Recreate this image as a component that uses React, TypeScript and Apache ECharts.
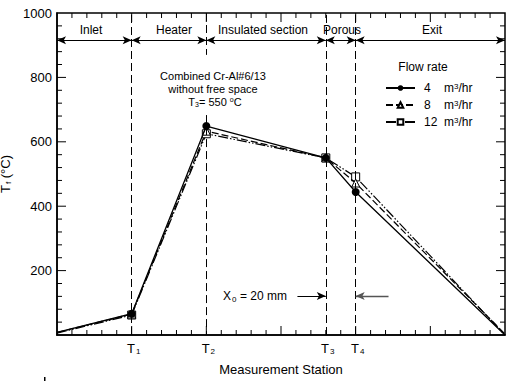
import React, { useEffect, useRef } from "react";
import * as echarts from "echarts";

// Measurement stations (mm along the rig) and fluid temperature (°C)
const stations = [0, 50, 100, 180, 200, 300];
const flow4 = [8, 66, 649, 550, 444, 0];
const flow8 = [8, 65, 633, 550, 472, 3];
const flow12 = [6, 62, 625, 550, 491, 0];
const seriesNames = ["4", "8", "12"];
const stationTicks = [50, 100, 180, 200];
const stationLabels = ["1", "2", "3", "4"];
const sectionEdges = [0, 50, 100, 180, 200, 300];
const sectionNames = ["Inlet", "Heater", "Insulated section", "Porous", "Exit"];
const sectionLabelX = [91, 174, 263, 342, 432];
const headerLevel = 915;
const x0Level = 121;
const X_MIN = 0, X_MAX = 300, X_MAJOR = 50, X_MINOR = 10;
const Y_MIN = 0, Y_MAX = 1000, Y_MAJOR = 200, Y_MINOR = 40;

const FONT = "'Liberation Sans', Arial, sans-serif";

export default function App() {
  const ref = useRef<HTMLDivElement>(null);
  useEffect(() => {
    if (!ref.current) return;
    document.body.style.margin = "0";
    const chart = echarts.init(ref.current, null, { renderer: "svg" });
    const pts = (ys: number[]) =>
      stations.map((x, i) => {
        const edge = i === 0 || i === stations.length - 1;
        return edge ? { value: [x, ys[i]], symbol: "none" } : { value: [x, ys[i]] };
      });

    const solidLS = () => ({ type: "solid", width: 1, color: "#000" });
    const greyLS = () => ({ type: "solid", width: 1.3, color: "#555" });
    const arrowPt = (c: number[], sym: string, ls: any) => ({ coord: c, symbol: sym, symbolSize: [6, 9], lineStyle: ls });

    const headerArrows = sectionNames.map((_, i) => [
      arrowPt([sectionEdges[i], headerLevel], "arrow", solidLS()),
      arrowPt([sectionEdges[i + 1], headerLevel], "arrow", solidLS()),
    ]);

    const markLine = {
      silent: true,
      symbol: "none",
      label: { show: false },
      lineStyle: { color: "#000", type: [8, 4], width: 1 },
      emphasis: { disabled: true },
      data: [
        { xAxis: 50 },
        { xAxis: 180 },
        { xAxis: 200 },
        [{ coord: [100, 1000] }, { coord: [100, 870] }],
        [{ coord: [100, 683] }, { coord: [100, 0] }],
        ...headerArrows,
        [arrowPt([161, x0Level], "none", solidLS()), arrowPt([180, x0Level], "arrow", solidLS())],
        [arrowPt([222, x0Level], "none", greyLS()), arrowPt([200, x0Level], "arrow", greyLS())],
      ],
    };

    const subRich = { s: { fontSize: 8, verticalAlign: "bottom", padding: [6, 0, 0, 1], fontFamily: FONT, fill: "#000" } };

    const baseGraphic: any[] = [
      ...sectionNames.map((t, i) => ({
        type: "text",
        x: sectionLabelX[i],
        y: 30,
        style: { text: t, fontSize: 12, fontFamily: FONT, fill: "#000", align: "center", verticalAlign: "middle" },
      })),
      { type: "text", x: 213, y: 76, style: { text: "Combined Cr-Al#6/13", fontSize: 11, fontFamily: FONT, fill: "#000", align: "center", verticalAlign: "middle" } },
      { type: "text", x: 213, y: 89, style: { text: "without free space", fontSize: 11, fontFamily: FONT, fill: "#000", align: "center", verticalAlign: "middle" } },
      {
        type: "text",
        x: 215,
        y: 102,
        style: {
          text: "T{s|3}= 550 {p|o}C",
          fontSize: 11,
          fontFamily: FONT,
          fill: "#000",
          align: "center",
          verticalAlign: "middle",
          rich: {
            s: { fontSize: 7, verticalAlign: "bottom", padding: [5, 0, 0, 0], fontFamily: FONT, fill: "#000" },
            p: { fontSize: 7, verticalAlign: "top", fontFamily: FONT, fill: "#000" },
          },
        },
      },
      { type: "text", x: 423, y: 67, style: { text: "Flow rate", fontSize: 12, fontFamily: FONT, fill: "#000", align: "center", verticalAlign: "middle" } },
      {
        type: "text",
        x: 255,
        y: 296,
        style: { text: "X{s|0} = 20 mm", fontSize: 12, fontFamily: FONT, fill: "#000", align: "center", verticalAlign: "middle", rich: subRich },
      },
      { type: "rect", shape: { x: 44, y: 377, width: 1.5, height: 4 }, style: { fill: "#000" } },
    ];

    chart.setOption({
      animation: false,
      grid: { left: 57, right: 1, top: 13, bottom: 46, outerBoundsMode: "none", containLabel: false, show: true, borderColor: "#000", borderWidth: 1.5, backgroundColor: "transparent" },
      xAxis: {
        type: "value",
        min: X_MIN,
        max: X_MAX,
        interval: X_MAJOR,
        axisLine: { show: true, lineStyle: { color: "#000", width: 1.5 } },
        axisTick: { show: false },
        splitLine: { show: false },
        axisLabel: { show: false },
        name: "Measurement Station",
        nameLocation: "middle",
        nameGap: 28,
        nameTextStyle: { fontSize: 13, color: "#000", fontFamily: FONT },
      },
      yAxis: {
        type: "value",
        min: Y_MIN,
        max: Y_MAX,
        interval: Y_MAJOR,
        axisLine: { show: true, lineStyle: { color: "#000", width: 1.5 } },
        axisTick: { show: false },
        splitLine: { show: false },
        name: "T{s|f} (°C)",
        nameLocation: "middle",
        nameGap: 24,
        nameTextStyle: {
          fontSize: 13,
          color: "#000",
          fontFamily: FONT,
          rich: { s: { fontSize: 8, verticalAlign: "bottom", padding: [6, 0, 0, 1], fontFamily: FONT, color: "#000" } },
        },
        axisLabel: {
          color: "#000",
          fontSize: 13,
          fontFamily: FONT,
          margin: 5,
          formatter: (v: number) => (v === 0 ? "" : String(v)),
        },
      },
      legend: {
        orient: "vertical",
        left: 380,
        top: 77,
        itemWidth: 29,
        itemHeight: 7,
        itemGap: 5,
        data: seriesNames,
        formatter: (name: string) => `{n|${name}}{u|m}{p|3}{u|/hr}`,
        textStyle: {
          color: "#000",
          fontFamily: FONT,
          fontSize: 12,
          rich: {
            n: { width: 20, padding: [0, 0, 0, 4], fontSize: 12, fontFamily: FONT, color: "#000" },
            u: { fontSize: 12, fontFamily: FONT, color: "#000" },
            p: { fontSize: 8, verticalAlign: "top", fontFamily: FONT, color: "#000" },
          },
        },
      },
      graphic: baseGraphic,
      series: [
        {
          name: seriesNames[0],
          type: "line",
          data: pts(flow4),
          symbol: "circle",
          symbolSize: 8,
          itemStyle: { color: "#000" },
          lineStyle: { color: "#000", width: 1.3, type: "solid" },
          markLine,
          z: 5,
        },
        {
          name: seriesNames[1],
          type: "line",
          data: pts(flow8),
          symbol: "triangle",
          symbolSize: 8,
          itemStyle: { color: "#fff", borderColor: "#000", borderWidth: 1 },
          lineStyle: { color: "#000", width: 1.2, type: [7, 3] },
          z: 4,
        },
        {
          name: seriesNames[2],
          type: "line",
          data: pts(flow12),
          symbol: "rect",
          symbolSize: 8,
          itemStyle: { color: "#fff", borderColor: "#000", borderWidth: 1 },
          lineStyle: { color: "#000", width: 1.2, type: [10, 2, 1.5, 2, 1.5, 2] },
          z: 3,
        },
      ],
    });

    // tick marks and station labels, positioned through the axis scales
    const toPx = (p: number[]) => chart.convertToPixel({ gridIndex: 0 }, p) as number[];
    const extra: any[] = [];
    const bar = (x: number, y: number, w: number, h: number) =>
      extra.push({ type: "rect", shape: { x, y, width: w, height: h }, style: { fill: "#000" }, z: 10 });
    for (let v = X_MIN + X_MINOR; v < X_MAX; v += X_MINOR) {
      const len = v % X_MAJOR === 0 ? 9 : 5;
      const b = toPx([v, Y_MIN]);
      const t = toPx([v, Y_MAX]);
      bar(b[0] - 0.5, b[1] - len, 1, len);
      bar(t[0] - 0.5, t[1], 1, len);
    }
    for (let v = Y_MIN + Y_MINOR; v < Y_MAX; v += Y_MINOR) {
      const len = v % Y_MAJOR === 0 ? 9 : 5;
      const l = toPx([X_MIN, v]);
      const r = toPx([X_MAX, v]);
      bar(l[0], l[1] - 0.5, len, 1);
      bar(r[0] - len, r[1] - 0.5, len, 1);
    }
    stationTicks.forEach((v, i) => {
      const p = toPx([v, Y_MIN]);
      extra.push({
        type: "text",
        x: p[0] + 2,
        y: p[1] + 13,
        style: { text: `T{s|${stationLabels[i]}}`, fontSize: 13, fontFamily: FONT, fill: "#000", align: "center", verticalAlign: "middle", rich: subRich },
      });
    });
    chart.setOption({ graphic: [...baseGraphic, ...extra] });

    return () => chart.dispose();
  }, []);
  return <div ref={ref} style={{ width: 506, height: 381 }} />;
}
